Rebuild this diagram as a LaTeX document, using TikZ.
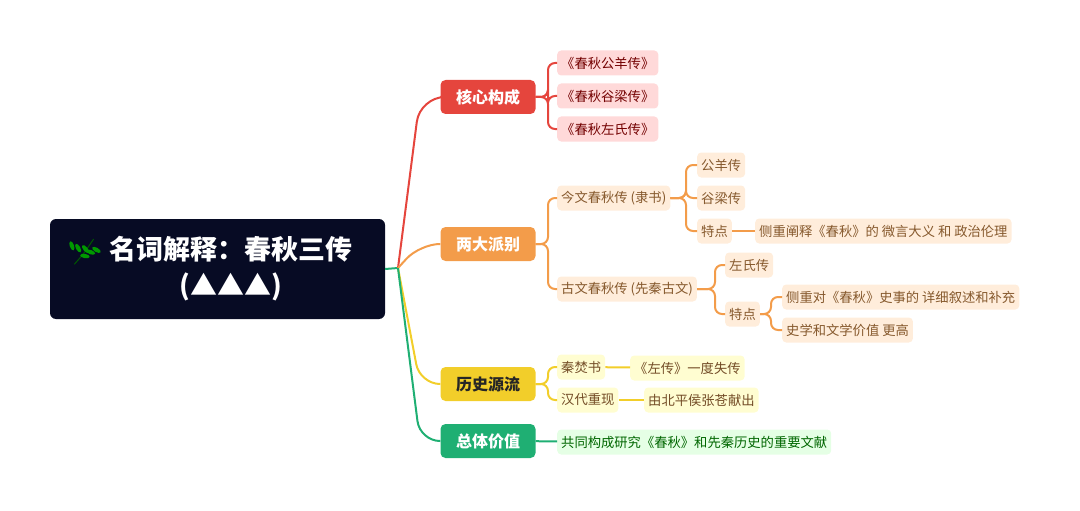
\documentclass[tikz,border=0pt]{standalone}
\usepackage{fontspec}
\setmainfont{Noto Sans CJK SC}
\begin{document}
\begin{tikzpicture}[x=1pt,y=-1pt,
 box/.style={anchor=west,rounded corners=4pt,inner xsep=4pt,minimum height=25pt,font=\fontsize{13.3}{15}\selectfont},
 lone/.style={rounded corners=5pt,minimum height=34pt,minimum width=95pt,font=\bfseries\fontsize{16}{18}\selectfont,text=white},
 rc/.style={box,fill=red!15!white,text=red!45!black},
 oc/.style={box,fill=orange!14!white,text=brown!70!black},
 yc/.style={box,fill=yellow!18!white,text=brown!60!black},
 gc/.style={box,fill=green!10!white,text=green!40!black},
 ln/.style={line width=2pt,rounded corners=7pt}]
\useasboundingbox (0,0) rectangle (1080,511);
\definecolor{rootc}{HTML}{070B24}
\definecolor{cr}{HTML}{E5453D}
\definecolor{co}{HTML}{F39C4A}
\definecolor{cy}{HTML}{F2CE2A}
\definecolor{cg}{HTML}{1FAF73}
\node[fill=rootc,rounded corners=6pt,minimum width=335pt,minimum height=100pt] (root) at (217.5,269) {};
\node[text=white,font=\bfseries\fontsize{27}{36}\selectfont,align=center] (rt) at (231,269) {名词解释：春秋三传\\(▲▲▲)};
% leaf
\begin{scope}[shift={(84,251)},scale=1.2]
\draw[green!35!black,line width=1pt] (-8,11) .. controls (0,2) .. (8,-10);
\foreach \p/\a in {{(-3,2)}/130,{(1,-3)}/120,{(4,-8)}/110,{(-2,4)}/-10,{(2,-1)}/-20,{(5,-6)}/-30}
 \fill[green!60!black] \p ++(\a:0) [rotate=\a] ++(3.5,0) ellipse (4pt and 1.8pt);
\end{scope}
\coordinate (hub) at (398,268);
\draw[line width=2pt,cg] (root.east) -- (hub);
\node[lone,fill=cr] (a) at (488,97) {核心构成};
\node[lone,fill=co] (b) at (488,244) {两大派别};
\node[lone,fill=cy,text=black!85] (c) at (488,384) {历史源流};
\node[lone,fill=cg] (d) at (488,441) {总体价值};
\draw[ln,cr,rounded corners=25pt] (hub) -- (420,97) -- (a.west);
\draw[ln,co,rounded corners=20pt] (hub) -- (420,244) -- (b.west);
\draw[ln,cy,rounded corners=20pt] (hub) -- (420,384) -- (c.west);
\draw[ln,cg,rounded corners=20pt] (hub) -- (420,441) -- (d.west);
% red
\node[rc] (a1) at (557,63) {《春秋公羊传》};
\node[rc] (a2) at (557,96) {《春秋谷梁传》};
\node[rc] (a3) at (557,129) {《春秋左氏传》};
\foreach \n in {a1,a2,a3} \draw[ln,cr] (a.east) -- (548,97) |- (\n.west);
% orange
\node[oc] (b1) at (557,198) {今文春秋传 (隶书)};
\node[oc] (b2) at (557,289) {古文春秋传 (先秦古文)};
\foreach \n in {b1,b2} \draw[ln,co] (b.east) -- (548,244) |- (\n.west);
\node[oc] (b11) at (697,165) {公羊传};
\node[oc] (b12) at (697,198) {谷梁传};
\node[oc] (b13) at (697,231) {特点};
\foreach \n in {b11,b12,b13} \draw[ln,co] (b1.east) -- (686,198) |- (\n.west);
\node[oc] (b131) at (755,231) {侧重阐释《春秋》的 微言大义 和 政治伦理};
\draw[ln,co] (b13) -- (b131);
\node[oc] (b21) at (725,265) {左氏传};
\node[oc] (b22) at (725,314) {特点};
\foreach \n in {b21,b22} \draw[ln,co] (b2.east) -- (715,289) |- (\n.west);
\node[oc] (b221) at (782,297) {侧重对《春秋》史事的 详细叙述和补充};
\node[oc] (b222) at (782,330) {史学和文学价值 更高};
\foreach \n in {b221,b222} \draw[ln,co] (b22.east) -- (771,314) |- (\n.west);
% yellow
\node[yc] (c1) at (557,367) {秦焚书};
\node[yc] (c2) at (557,400) {汉代重现};
\foreach \n in {c1,c2} \draw[ln,cy] (c.east) -- (548,384) |- (\n.west);
\node[yc] (c11) at (630,368) {《左传》一度失传};
\node[yc] (c21) at (644,400) {由北平侯张苍献出};
\draw[ln,cy] (c1) -- (c11);
\draw[ln,cy] (c2) -- (c21);
% green
\node[gc] (d1) at (557,442) {共同构成研究《春秋》和先秦历史的重要文献};
\draw[ln,cg] (d) -- (d1);
\end{tikzpicture}
\end{document}
